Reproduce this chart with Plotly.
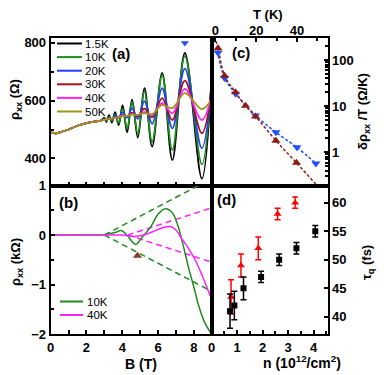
import plotly.graph_objects as go

# ---------------- panel (a): rho_xx(B) at several temperatures
b_a = [0, 0.3, 0.6, 1.0, 1.5, 2.0, 2.5, 2.8, 3.0, 3.11, 3.26, 3.42, 3.6, 3.8,
       4.02, 4.27, 4.55, 4.87, 5.24, 5.67, 6.23, 6.8, 7.5, 8.45, 9.0]
rho_1p5k = [490, 487, 492, 500, 513, 522, 528, 531, 540, 526, 550, 524, 560, 515,
            584, 490, 603, 472, 643, 441, 696, 394, 765, 330, 680]
rho_10k = [490, 487, 492, 500, 513, 522, 528, 531, 537, 530, 544, 530, 552, 522,
           572, 502, 595, 485, 632, 458, 688, 429, 754, 379, 682]
rho_20k = [490, 487, 492, 500, 513, 522, 528, 531, 534, 533, 538, 535, 548, 542,
           559, 541, 573, 537, 598, 520, 643, 504, 711, 435, 660]
rho_30k = [490, 487, 492, 500, 513, 522, 528, 531, 534, 534, 537, 537, 542, 541,
           550, 546, 558, 546, 572, 542, 609, 533, 669, 487, 640]
rho_40k = [490, 487, 492, 500, 513, 522, 528, 531, 534, 535, 537, 538, 541, 542,
           548, 547, 554, 550, 560, 550, 591, 556, 641, 533, 620]
rho_50k = [490, 487, 492, 500, 513, 522, 528, 531, 534, 535, 537, 538, 541, 542,
           547, 547, 552, 551, 557, 553, 585, 574, 626, 571, 605]
temps_a = ['1.5K', '10K', '20K', '30K', '40K', '50K']
colors_a = ['black', '#1c8c1c', '#1f3fff', '#9e1414', '#ff22ff', '#9a9812']
peak_b, peak_rho = [7.5], [800]

# ---------------- panel (b): oscillating part, 10K and 40K
b_10k = [0, 1, 2, 2.8, 3.2, 3.6, 3.95, 4.3, 4.75, 5.1, 5.6, 6.0, 6.42, 6.8,
         7.1, 7.4, 7.7, 8.0, 8.3, 8.6, 8.95]
d_10k = [0, 0, 0, 0, 0.02, 0.05, 0.09, -0.02, -0.19, -0.05, 0.17, 0.42, 0.53, 0.45,
         0.2, -0.2, -0.65, -1.05, -1.46, -1.76, -1.98]
b_40k = [0, 2, 3.5, 4.0, 4.7, 5.2, 5.8, 6.3, 6.7, 7.0, 7.3, 7.7, 8.1, 8.5, 8.8, 9.0]
d_40k = [0, 0, 0, 0, -0.03, 0.0, 0.08, 0.15, 0.17, 0.1, -0.06, -0.27, -0.52,
         -0.85, -1.12, -1.3]
env_b_10k, env_10k = [3.0, 9.0], [0, 1.14]
env_b_40k, env_40k = [4.3, 9.0], [0, 0.55]
tri_b, tri_d = [4.85], [-0.42]

# ---------------- panel (c): amplitude / T vs T
t_blue = [1.3, 4.5, 9.9, 19.7, 29.7, 40, 49.3]
amp_blue = [144, 41, 18.7, 6.3, 2.72, 1.28, 0.575]
t_brown = [1.3, 4.5, 9.9, 14.8, 19.7, 29.7, 39.8]
amp_brown = [180, 46, 20, 10.2, 6.0, 1.79, 0.59]
fit_t_blue = [1.0, 4.5, 9.9, 19.7, 29.7, 40, 49.3]
fit_blue = [160, 41, 18.7, 6.3, 2.72, 1.28, 0.575]
fit_t_brown = [0.2, 1.3, 4.5, 9.9, 14.8, 19.7, 29.7, 39.8, 52]
fit_brown = [260, 180, 46, 20, 10.2, 6.0, 1.79, 0.59, 0.15]

# ---------------- panel (d): quantum lifetime vs density
n_black = [0.72, 0.89, 1.25, 1.94, 2.65, 3.33, 4.07]
tau_black = [41, 42, 45, 47, 50, 52, 55]
err_black = [3, 2.5, 2, 1, 1, 1, 1]
n_red = [0.76, 1.15, 1.83, 2.59, 3.28]
tau_red = [43.5, 49, 52, 58, 60]
err_red = [3, 2, 2, 1, 1]

# the page body keeps its default 8px margin, so the figure is laid out
# in window pixels and shifted by that offset
PAGE = 8
W, H = 388 - PAGE, 375 - PAGE
FONT = 'Liberation Sans'
BROWN = '#8e1a12'
BLUE = '#1f4fff'
GREEN = '#1c8c1c'
PINK = '#ff22ff'


def px(x):
    return (x - PAGE) / W


def py(y):
    return 1 - (y - PAGE) / H


fig = go.Figure()

for rho, name, col in zip([rho_1p5k, rho_10k, rho_20k, rho_30k, rho_40k, rho_50k],
                          temps_a, colors_a):
    fig.add_trace(go.Scatter(x=b_a, y=rho, mode='lines', name=name,
                             line=dict(color=col, width=1.8, shape='spline'),
                             xaxis='x', yaxis='y'))
fig.add_trace(go.Scatter(x=peak_b, y=peak_rho, mode='markers',
                         marker=dict(symbol='triangle-down', size=7, color=BLUE),
                         xaxis='x', yaxis='y'))

# (b) envelopes then curves
for eb, ev, col in [(env_b_10k, env_10k, GREEN), (env_b_40k, env_40k, PINK)]:
    for sgn in (1, -1):
        fig.add_trace(go.Scatter(x=eb, y=[sgn * v for v in ev], mode='lines',
                                 line=dict(color=col, width=1.5, dash='6px,4px'),
                                 xaxis='x2', yaxis='y2'))
fig.add_trace(go.Scatter(x=b_10k, y=d_10k, mode='lines', name='10K',
                         line=dict(color=GREEN, width=1.5, shape='spline'),
                         xaxis='x2', yaxis='y2'))
fig.add_trace(go.Scatter(x=b_40k, y=d_40k, mode='lines', name='40K',
                         line=dict(color=PINK, width=1.5, shape='spline'),
                         xaxis='x2', yaxis='y2'))
fig.add_trace(go.Scatter(x=tri_b, y=tri_d, mode='markers',
                         marker=dict(symbol='triangle-up', size=8, color='#8b3a2a'),
                         xaxis='x2', yaxis='y2'))

# (c)
fig.add_trace(go.Scatter(x=fit_t_blue, y=fit_blue, mode='lines',
                         line=dict(color=BLUE, width=1.5, dash='3px,2px', shape='spline'),
                         xaxis='x3', yaxis='y3'))
fig.add_trace(go.Scatter(x=fit_t_brown, y=fit_brown, mode='lines',
                         line=dict(color=BROWN, width=1.5, dash='3px,2px', shape='spline'),
                         xaxis='x3', yaxis='y3'))
fig.add_trace(go.Scatter(x=t_blue, y=amp_blue, mode='markers',
                         marker=dict(symbol='triangle-down', size=8, color=BLUE),
                         xaxis='x3', yaxis='y3'))
fig.add_trace(go.Scatter(x=t_brown, y=amp_brown, mode='markers',
                         marker=dict(symbol='triangle-up', size=8, color=BROWN),
                         xaxis='x3', yaxis='y3'))

# (d)
fig.add_trace(go.Scatter(x=n_red, y=tau_red, mode='markers',
                         marker=dict(symbol='triangle-up', size=7, color='red'),
                         error_y=dict(type='data', array=err_red, color='red',
                                      thickness=1.5, width=3),
                         xaxis='x4', yaxis='y4'))
fig.add_trace(go.Scatter(x=n_black, y=tau_black, mode='markers',
                         marker=dict(symbol='square', size=6, color='black'),
                         error_y=dict(type='data', array=err_black, color='black',
                                      thickness=1.5, width=3),
                         xaxis='x4', yaxis='y4'))

tickfont = dict(family=FONT, size=13, color='black', weight='bold')
common = dict(showline=True, linecolor='black', linewidth=2, mirror=True,
              ticks='inside', tickcolor='black', tickwidth=1.5, ticklen=4,
              showgrid=False, zeroline=False, tickfont=tickfont, automargin=False)

xa = (px(50.7), px(211.7))
xc = (px(211.7), px(327.5))
ya = (py(185.5), py(38))
yb = (py(334), py(185.5))

fig.update_layout(
    template='none',
    width=W, height=H, margin=dict(l=0, r=0, t=0, b=0),
    plot_bgcolor='white', paper_bgcolor='white', showlegend=False,
    xaxis=dict(domain=xa, range=[0, 9], anchor='y', dtick=1, showticklabels=False, **common),
    yaxis=dict(domain=ya, range=[306, 817], anchor='x', tickvals=[400, 600, 800],
               minor=dict(ticks='inside', ticklen=3, tickvals=[500, 700], tickcolor='black'),
               **common),
    xaxis2=dict(domain=xa, range=[0, 9], anchor='y2', tickvals=[0, 2, 4, 6, 8],
                minor=dict(ticks='inside', ticklen=4, dtick=1, tickcolor='black'), **common),
    yaxis2=dict(domain=yb, range=[-2, 1], anchor='x2', tickvals=[-2, -1, 0, 1],
                minor=dict(ticks='inside', ticklen=3, dtick=0.5, tickcolor='black'), **common),
    xaxis3=dict(domain=xc, range=[-1.8, 55], anchor='y3', side='top', tickvals=[0, 20, 40],
                ticklabelstandoff=-4,
                minor=dict(ticks='inside', ticklen=3, dtick=10, tickcolor='black'), **common),
    yaxis3=dict(domain=ya, type='log', range=[-0.72, 2.48], anchor='x3', side='right',
                tickvals=[1, 10, 100], ticktext=['1', '10', '100'],
                minor=dict(ticks='inside', ticklen=2.5, tickcolor='black',
                           tickvals=[0.2, 0.3, 0.4, 0.5, 0.6, 0.7, 0.8, 0.9,
                                     2, 3, 4, 5, 6, 7, 8, 9,
                                     20, 30, 40, 50, 60, 70, 80, 90, 200, 300]),
                **common),
    xaxis4=dict(domain=xc, range=[0, 4.55], anchor='y4', tickvals=[0, 1, 2, 3, 4],
                minor=dict(ticks='inside', ticklen=3, dtick=0.5, tickcolor='black'), **common),
    yaxis4=dict(domain=yb, range=[37, 63], anchor='x4', side='right',
                tickvals=[40, 45, 50, 55, 60], **common),
)

ann = []


def label(x, y, text, size=13, angle=0, bold=True, xanchor='center'):
    ann.append(dict(x=px(x), y=py(y), xref='paper', yref='paper', text=text,
                    showarrow=False, textangle=angle, xanchor=xanchor, yanchor='middle',
                    font=dict(family=FONT, size=size, color='black',
                              weight='bold' if bold else 'normal')))


label(16, 100, 'ρ<sub>xx</sub> (Ω)', angle=-90)
label(16, 262, 'ρ<sub>xx</sub> (kΩ)', angle=-90)
label(141, 364, 'B (T)', size=14)
label(268, 15, 'T (K)', size=13)
label(364, 112, 'δρ<sub>xx</sub> /T (Ω/K)', angle=-90)
label(367, 263, 'τ<sub>q</sub> (fs)', angle=-90)
label(302, 362, 'n (10<sup>12</sup>/cm<sup>2</sup>)', size=14)
label(121, 53, '(a)', size=15)
label(68, 202, '(b)', size=15)
label(241, 52, '(c)', size=15)
label(226, 200, '(d)', size=15)

# legends drawn by hand (compact spacing)
shapes = []
for i, (name, col) in enumerate(zip(temps_a, colors_a)):
    yy = 43.5 + 13.6 * i
    shapes.append(dict(type='line', xref='paper', yref='paper', x0=px(57), x1=px(82),
                       y0=py(yy), y1=py(yy), line=dict(color=col, width=2)))
    label(83, yy, name, size=11.5, bold=False, xanchor='left')
for i, (name, col) in enumerate(zip(['10K', '40K'], [GREEN, PINK])):
    yy = 301.5 + 13.5 * i
    shapes.append(dict(type='line', xref='paper', yref='paper', x0=px(60), x1=px(83),
                       y0=py(yy), y1=py(yy), line=dict(color=col, width=2)))
    label(85, yy, name, size=11.5, bold=False, xanchor='left')

fig.update_layout(annotations=ann, shapes=shapes)
fig.write_html("out.html")
